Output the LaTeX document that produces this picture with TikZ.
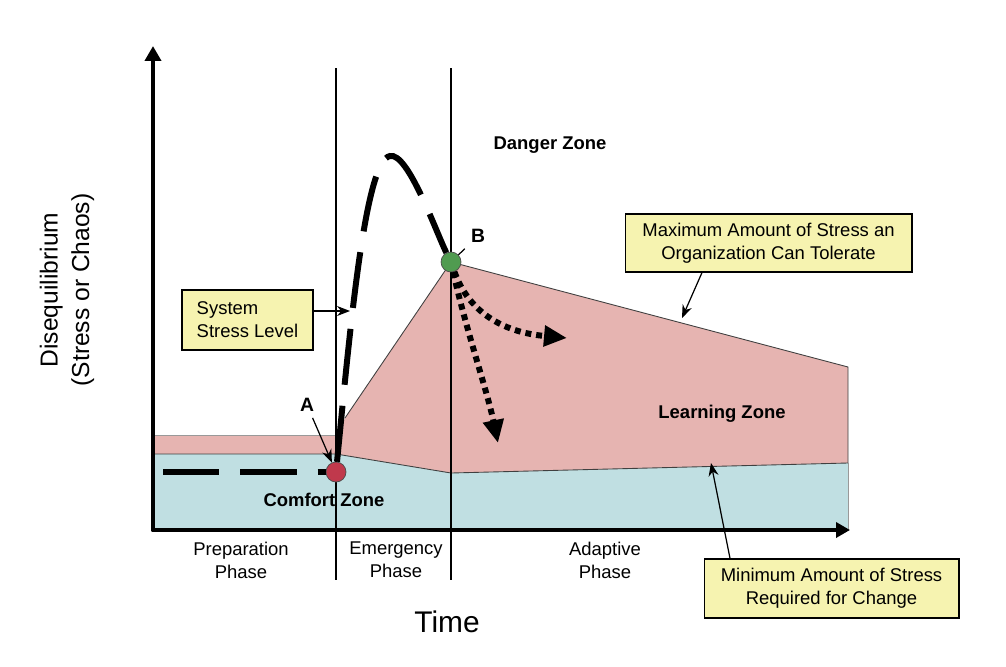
\documentclass[tikz,border=0pt]{standalone}
\usepackage{fontspec}
\setmainfont{Liberation Sans}
\usepackage{xcolor}
\usepackage{tikz}
\usetikzlibrary{arrows.meta, positioning}

\definecolor{learnpink}{RGB}{230,180,177}
\definecolor{comfortblue}{RGB}{192,223,226}
\definecolor{noteyellow}{RGB}{246,243,176}
\definecolor{markred}{RGB}{192,57,76}
\definecolor{markgreen}{RGB}{80,155,80}

\begin{document}
\begin{tikzpicture}[
        x=0.02cm, y=-0.02cm,
        every node/.style={font=\fontsize{10.5}{13}\selectfont},
        zone/.style={font=\fontsize{10.5}{13}\selectfont\bfseries},
        phase/.style={align=center},
        note/.style={draw, fill=noteyellow, align=center, inner sep=0pt, line width=0.6pt},
        marker/.style={circle, draw=black!70, minimum size=0.4cm, inner sep=0pt},
        axisline/.style={line width=2.8pt, line join=round},
        stress/.style={line width=3.4pt, dash pattern=on 32pt off 12pt},
        trend/.style={line width=3.4pt, dash pattern=on 3.4pt off 2.8pt, -{Triangle[length=0.46cm, width=0.4cm]}},
        pointer/.style={-{Stealth[length=2.6mm, width=2mm]}, line width=0.7pt}
    ]
        \useasboundingbox (0,0) rectangle (1006,666);

        % Zones
        \fill[learnpink] (153,435) -- (338,435) -- (345,418) -- (451,262) -- (848,367)
            -- (848,463) -- (451,473) -- (336,454) -- (153,454) -- cycle;
        \fill[comfortblue] (153,454) -- (336,454) -- (451,473) -- (848,463) -- (848,530) -- (153,530) -- cycle;
        \draw[black!40, line width=0.5pt] (153,435) -- (338,435);
        \draw[black!75, line width=0.5pt] (345,418) -- (451,262) -- (848,367) -- (848,463);
        \draw[black!75, line width=0.5pt] (153,454) -- (336,454) -- (451,473) -- (848,463);
        \draw[black!40, line width=0.5pt] (848,463) -- (848,530);

        % Phase dividers
        \foreach \px in {336,451}
            \draw[line width=0.6pt] (\px,68) -- (\px,580);

        % Axes
        \coordinate (origin) at (153,530);
        \coordinate (ytop) at (153,46);
        \coordinate (xend) at (850,530);
        \draw[axisline, {Triangle[length=0.3cm, width=0.32cm]}-{Triangle[length=0.28cm, width=0.3cm]}]
            (ytop) -- (origin) -- (xend);

        % Nodes
        \node[marker, fill=markred] (A) at (336,472) {};
        \node[marker, fill=markgreen] (B) at (451,262) {};
        \node[zone, font=\fontsize{11}{13}\selectfont\bfseries] (Alab) at (307,405) {A};
        \node[zone, font=\fontsize{11}{13}\selectfont\bfseries] (Blab) at (478,236) {B};

        \node[zone] (danger) at (550,145) {Danger Zone};
        \node[zone] (learning) at (722,414) {Learning Zone};
        \node[zone] (comfort) at (324,500) {Comfort Zone};

        \node[phase] (prep) at (241,560) {Preparation\\Phase};
        \node[phase] (emerg) at (396,560) {Emergency\\Phase};
        \node[phase] (adapt) at (605,560) {Adaptive\\Phase};

        \node[font=\fontsize{17}{20}\selectfont] (time) at (447,622) {Time};
        \node[align=center, rotate=90, font=\fontsize{14}{18}\selectfont] (diseq) at (67,290)
            {Disequilibrium\\(Stress or Chaos)};

        \node[note, align=left, minimum width=2.62cm, minimum height=1.2cm] (sysbox) at (247.5,320)
            {System\\Stress Level};
        \node[note, minimum width=5.74cm, minimum height=1.16cm] (maxbox) at (768.5,243)
            {Maximum Amount of Stress an\\Organization Can Tolerate};
        \node[note, minimum width=5.1cm, minimum height=1.18cm] (minbox) at (831.5,588.5)
            {Minimum Amount of Stress\\Required for Change};

        % Stress level path
        \coordinate (calm) at (163,472);
        \coordinate (peak) at (390,156);
        \draw[stress] (calm) -- (A);
        \draw[stress] (A) .. controls (350,330) and (365,160) .. (peak)
            .. controls (408,152) and (436,232) .. (B);

        % Possible outcomes after B
        \coordinate (sinkend) at (498,443);
        \coordinate (easeend) at (567,338);
        \draw[trend] (B) .. controls (466,330) and (487,390) .. (sinkend);
        \draw[trend] (B) .. controls (468,310) and (500,332) .. (easeend);

        % Arrows
        \coordinate (systip) at (350,311);
        \coordinate (maxtip) at (682,318);
        \coordinate (mintip) at (711,463);
        \draw[pointer] (Alab) -- (A);
        \draw[line width=0.7pt] (Blab) -- (B);
        \draw[pointer] (sysbox.east |- systip) -- (systip);
        \draw[pointer] ([xshift=-1.33cm]maxbox.south) -- (maxtip);
        \draw[pointer] ([xshift=-2.03cm]minbox.north) -- (mintip);

    \end{tikzpicture}
\end{document}
